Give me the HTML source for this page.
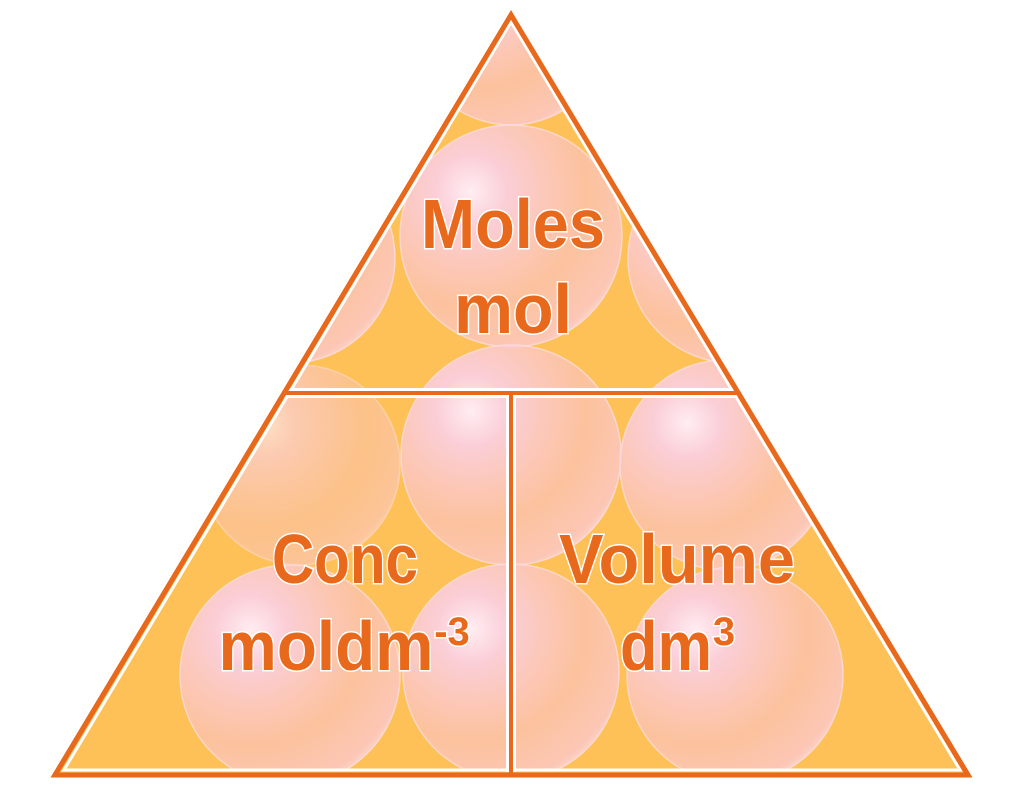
<!DOCTYPE html>
<html><head><meta charset="utf-8"><style>html,body{margin:0;padding:0;background:#fff;width:1024px;height:788px;overflow:hidden}</style></head>
<body>
<svg width="1024" height="788" viewBox="0 0 1024 788" xmlns="http://www.w3.org/2000/svg">
<defs>
<radialGradient id="b" cx="0.32" cy="0.3" r="0.8">
<stop offset="0" stop-color="#fff0fa" stop-opacity="0.95"/>
<stop offset="0.2" stop-color="#fbd0e6" stop-opacity="0.9"/>
<stop offset="0.65" stop-color="#fbc3c4" stop-opacity="0.65"/>
<stop offset="0.92" stop-color="#fbc8d4" stop-opacity="0.75"/>
<stop offset="1" stop-color="#fde0ea" stop-opacity="0.9"/>
</radialGradient>
<clipPath id="tri"><polygon points="511,22 64,770 960,770"/></clipPath>
</defs>
<polygon points="511,15 55,775 968,775" fill="#fdc157" stroke="#e8691c" stroke-width="5" stroke-linejoin="miter"/>
<g clip-path="url(#tri)" stroke="#fde0e8" stroke-width="1.5" stroke-opacity="0.7">
<circle cx="511" cy="25" r="100" fill="url(#b)"/>
<circle cx="511" cy="236" r="111" fill="url(#b)"/>
<circle cx="290" cy="258" r="105" fill="url(#b)"/>
<circle cx="733" cy="258" r="105" fill="url(#b)"/>
<circle cx="511" cy="455" r="110" fill="url(#b)"/>
<circle cx="300" cy="465" r="100" fill="url(#b)" opacity="0.7"/>
<circle cx="725" cy="465" r="105" fill="url(#b)"/>
<circle cx="290" cy="675" r="110" fill="url(#b)"/>
<circle cx="511" cy="672" r="108" fill="url(#b)"/>
<circle cx="735" cy="675" r="108" fill="url(#b)"/>
</g>
<polygon points="511,22 64,770 960,770" fill="none" stroke="#fff" stroke-width="3"/>
<line x1="284" y1="393" x2="740" y2="393" stroke="#fff" stroke-width="10"/>
<line x1="511" y1="393" x2="511" y2="772" stroke="#fff" stroke-width="10"/>
<line x1="284" y1="393" x2="740" y2="393" stroke="#e8691c" stroke-width="4"/>
<line x1="511" y1="393" x2="511" y2="775" stroke="#e8691c" stroke-width="4"/>
<polygon points="511,15 55,775 968,775" fill="none" stroke="#e8691c" stroke-width="5"/>
<g font-family="Liberation Sans, sans-serif" font-weight="bold" fill="#e8691c" stroke="#fff" stroke-width="3" paint-order="stroke" text-anchor="middle">
<text x="513" y="248" font-size="70" textLength="184" lengthAdjust="spacingAndGlyphs">Moles</text>
<text x="513" y="333" font-size="70" textLength="118" lengthAdjust="spacingAndGlyphs">mol</text>
<text x="345" y="583" font-size="70" textLength="146" lengthAdjust="spacingAndGlyphs">Conc</text>
<text x="326" y="670" font-size="70" textLength="215" lengthAdjust="spacingAndGlyphs">moldm</text>
<text x="452" y="645" font-size="40">-3</text>
<text x="677" y="583" font-size="70" textLength="236" lengthAdjust="spacingAndGlyphs">Volume</text>
<text x="666" y="670" font-size="70" textLength="92" lengthAdjust="spacingAndGlyphs">dm</text>
<text x="724" y="645" font-size="40">3</text>
</g>
</svg>
</body></html>
